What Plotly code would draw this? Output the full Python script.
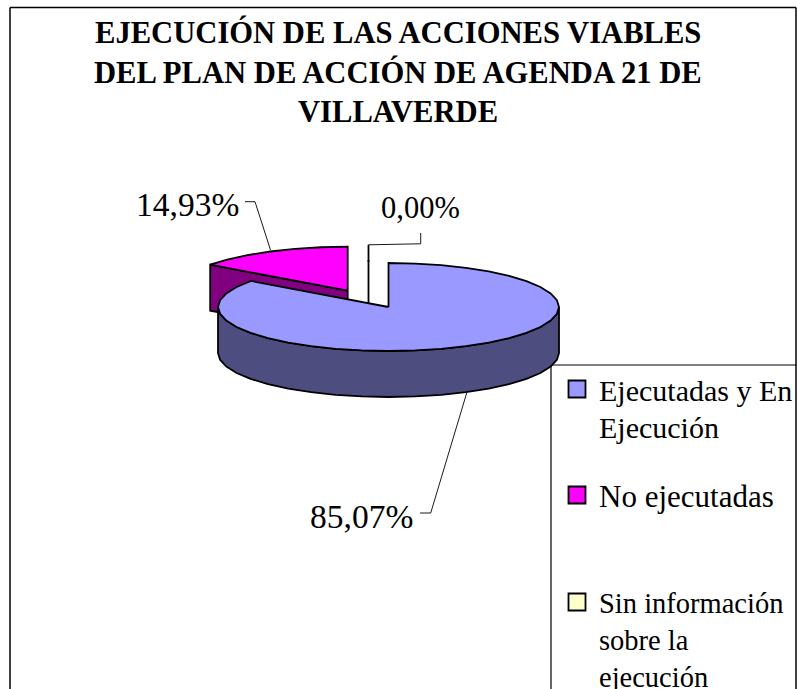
import numpy as np
import plotly.graph_objects as go

title_lines = ["EJECUCIÓN DE LAS ACCIONES VIABLES", "DEL PLAN DE ACCIÓN DE AGENDA 21 DE", "VILLAVERDE"]
categories = ["Ejecutadas y En<br>Ejecución", "No ejecutadas", "Sin información<br>sobre la<br>ejecución"]
values = [85.07, 14.93, 0.0]
value_labels = ["85,07%", "14,93%", "0,00%"]
top_colors = ["#9999FF", "#FF00FF", "#FFFFCC"]
side_colors = ["#4D4D80", "#800080", "#808066"]

W, H = 797, 689
A, B, DEPTH = 170.5, 44.0, 46.0
CENTERS = [(388.5, 307.0), (347.7, 290.7), (368.5, 304.0)]
FONT = "Liberation Serif"
LW = 1.8


def angles(t0, t1, step=9.0):
    inner = np.arange(np.ceil(t0 / step) * step, t1, step)
    inner = inner[inner > t0]
    return np.concatenate([[t0], inner, [t1]])


def arc(c, t):
    r = np.radians(t)
    return c[0] + A * np.sin(r), c[1] - B * np.cos(r)


def poly(fig, xs, ys, fill):
    fig.add_trace(go.Scatter(x=list(xs) + [xs[0]], y=list(ys) + [ys[0]], mode="lines", fill="toself",
                             fillcolor=fill, line=dict(color="black", width=LW, shape="linear"),
                             hoverinfo="skip", showlegend=False))


total = sum(values)
edges = np.concatenate([[0], np.cumsum(values) / total * 360])
fig = go.Figure()

# No ejecutadas: cut face then top
c = CENTERS[1]
t0, t1 = edges[1], edges[2]
tx, ty = arc(c, t0)
poly(fig, [c[0], tx, tx, c[0]], [c[1], ty, ty + DEPTH, c[1] + DEPTH], side_colors[1])
ax, ay = arc(c, angles(t0, t1))
poly(fig, [c[0], *ax], [c[1], *ay], top_colors[1])

# Sin información: zero-width slice
c = CENTERS[2]
zx, zy = arc(c, edges[2])
poly(fig, [c[0], zx], [c[1], zy], top_colors[2])

# Ejecutadas: outer wall then top
c = CENTERS[0]
t0, t1 = edges[0], edges[1]
wt = angles(90, 270)
wx, wy = arc(c, wt)
poly(fig, list(wx) + list(wx[::-1]), list(wy) + list((wy + DEPTH)[::-1]), side_colors[0])
ax, ay = arc(c, angles(t0, t1))
poly(fig, [c[0], *ax], [c[1], *ay], top_colors[0])

# Leader lines
leaders = [
    ([466.7, 430.7, 420], [393, 513, 513], 0.9),
    ([245, 255, 270.5], [201.7, 201.7, 250], 0.9),
    ([368.5, 420.7, 420.7], [244.8, 243.8, 233], 0.9),
    ([368.5, 368.5], [244.8, 262], 1.8),
]
for lx, ly, lw in leaders:
    fig.add_trace(go.Scatter(x=lx, y=ly, mode="lines", line=dict(color="black", width=lw),
                             hoverinfo="skip", showlegend=False))

# Legend swatches
swatch_y = [389, 495, 602]
fig.add_trace(go.Scatter(x=[577] * 3, y=swatch_y, mode="markers", showlegend=False, hoverinfo="skip",
                         marker=dict(symbol="square", size=17, color=top_colors,
                                     line=dict(color="black", width=1.8))))

annotations = []
for i, line in enumerate(title_lines):
    annotations.append(dict(x=398, y=[32, 72, 112][i], text=f"<b>{line}</b>", showarrow=False,
                            xanchor="center", yanchor="middle", font=dict(family=FONT, size=30.6, color="black")))
for x, y, txt, sz in zip([361, 187, 420], [516, 204, 208], value_labels, [33.5, 33.5, 30.5]):
    annotations.append(dict(x=x, y=y, text=txt, showarrow=False, xanchor="center", yanchor="middle",
                            font=dict(family=FONT, size=sz, color="black")))
for y, cat, sz in zip([390, 496, 603], categories, [30, 31, 28.5]):
    for j, line in enumerate(cat.split("<br>")):
        annotations.append(dict(x=597, y=y + j * 37, text=line, showarrow=False, xanchor="left", yanchor="middle",
                                font=dict(family=FONT, size=sz, color="black")))

shapes = [
    dict(type="line", x0=10, x1=10, y0=7.5, y1=689, line=dict(color="black", width=1.5)),
    dict(type="line", x0=10, x1=796, y0=7.5, y1=7.5, line=dict(color="black", width=1.5)),
    dict(type="line", x0=796, x1=796, y0=7.5, y1=689, line=dict(color="black", width=1.5)),
    dict(type="line", x0=551, x1=551, y0=365, y1=689, line=dict(color="black", width=1.2)),
    dict(type="line", x0=551, x1=796, y0=365, y1=365, line=dict(color="black", width=1.2)),
]

fig.update_layout(
    width=W, height=H, margin=dict(l=0, r=0, t=0, b=0), autosize=False,
    paper_bgcolor="white", plot_bgcolor="white", showlegend=False,
    xaxis=dict(range=[0, W], visible=False, fixedrange=True),
    yaxis=dict(range=[H, 0], visible=False, fixedrange=True),
    annotations=annotations, shapes=shapes,
)
fig.write_html("out.html", config={"displayModeBar": False},
               post_script="document.body.style.margin='0';document.body.style.overflow='hidden';")
